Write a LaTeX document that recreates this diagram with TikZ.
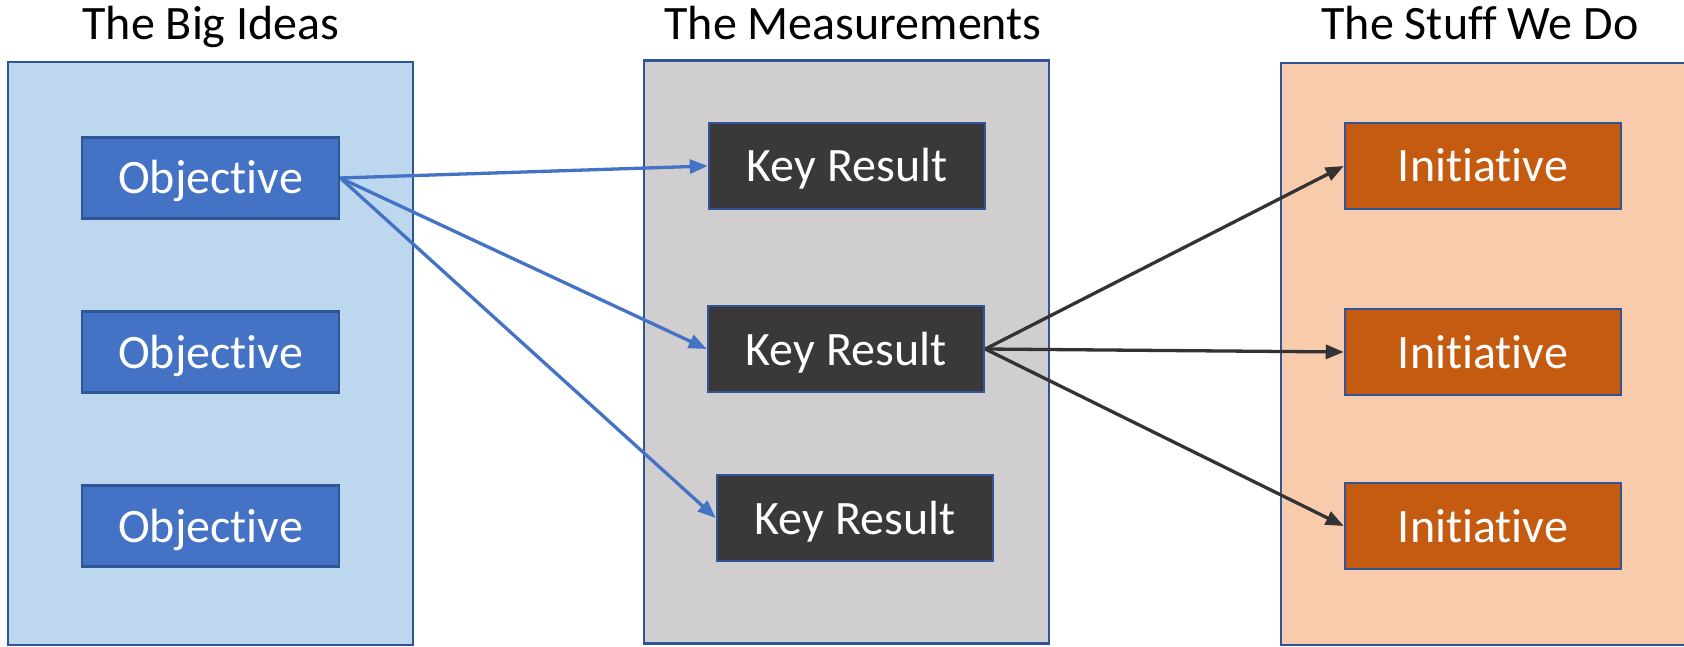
\documentclass[tikz,border=0pt]{standalone}
\usepackage{fontspec}
\setmainfont{Carlito}[RawFeature={-liga}]
\usetikzlibrary{arrows.meta}
\definecolor{panelblue}{HTML}{BDD7EE}
\definecolor{panelgray}{HTML}{D0CECE}
\definecolor{panelorange}{HTML}{F8CBAD}
\definecolor{edgeblue}{HTML}{2F5597}
\definecolor{objblue}{HTML}{4472C4}
\definecolor{krdark}{HTML}{3A3838}
\definecolor{initorange}{HTML}{C55A11}
\definecolor{arrowdark}{HTML}{333333}
\tikzset{
  panel/.style={draw=edgeblue, line width=2.5pt, minimum width=405pt, minimum height=583pt, inner sep=0pt},
  item/.style={draw=edgeblue, line width=2.5pt, minimum width=257pt, minimum height=81pt, inner sep=0pt, text=white, font=\fontsize{48}{58}\selectfont, text height=34pt, text depth=2pt},
  kr/.style={item, fill=krdark, minimum width=276pt, minimum height=86pt},
  obj/.style={item, fill=objblue},
  init/.style={item, fill=initorange, minimum width=276pt, minimum height=86pt},
  heading/.style={anchor=base, font=\fontsize{48}{58}\selectfont, inner sep=0pt},
  bluearrow/.style={draw=objblue, line width=3.3pt, -{Triangle[length=18pt,width=14pt]}},
  darkarrow/.style={draw=arrowdark, line width=3.3pt, -{Triangle[length=18pt,width=14pt]}},
}
\begin{document}
\begin{tikzpicture}[x=1pt, y=-1pt]
\useasboundingbox (0,0) rectangle (1684,647);
% panels
\node[panel, fill=panelblue] (pl) at (210.5,353.5) {};
\node[panel, fill=panelgray] (pm) at (846.5,352) {};
\node[panel, fill=panelorange, minimum width=412pt, minimum height=582pt] (pr) at (1487,354) {};
% headings
\node[heading] (hl) at (211,40) {The Big Ideas};
\node[heading] (hm) at (853,40) {The Measurements};
\node[heading] (hr) at (1480,40) {The Stuff We Do};
% objectives
\node[obj] (o1) at (210.5,178) {Objective};
\node[obj] (o2) at (210.5,352) {Objective};
\node[obj] (o3) at (210.5,526) {Objective};
% key results
\node[kr] (k1) at (847,166) {Key Result};
\node[kr] (k2) at (846,349) {Key Result};
\node[kr] (k3) at (855,518) {Key Result};
% initiatives
\node[init] (i1) at (1483,166) {Initiative};
\node[init] (i2) at (1483,352) {Initiative};
\node[init] (i3) at (1483,526) {Initiative};
% arrows
\draw[bluearrow] (o1.east) -- (k1.west);
\draw[bluearrow] (o1.east) -- (k2.west);
\draw[bluearrow] (o1.east) -- (k3.west);
\draw[darkarrow] (k2.east) -- (i1.west);
\draw[darkarrow] (k2.east) -- (i2.west);
\draw[darkarrow] (k2.east) -- (i3.west);
\end{tikzpicture}
\end{document}
